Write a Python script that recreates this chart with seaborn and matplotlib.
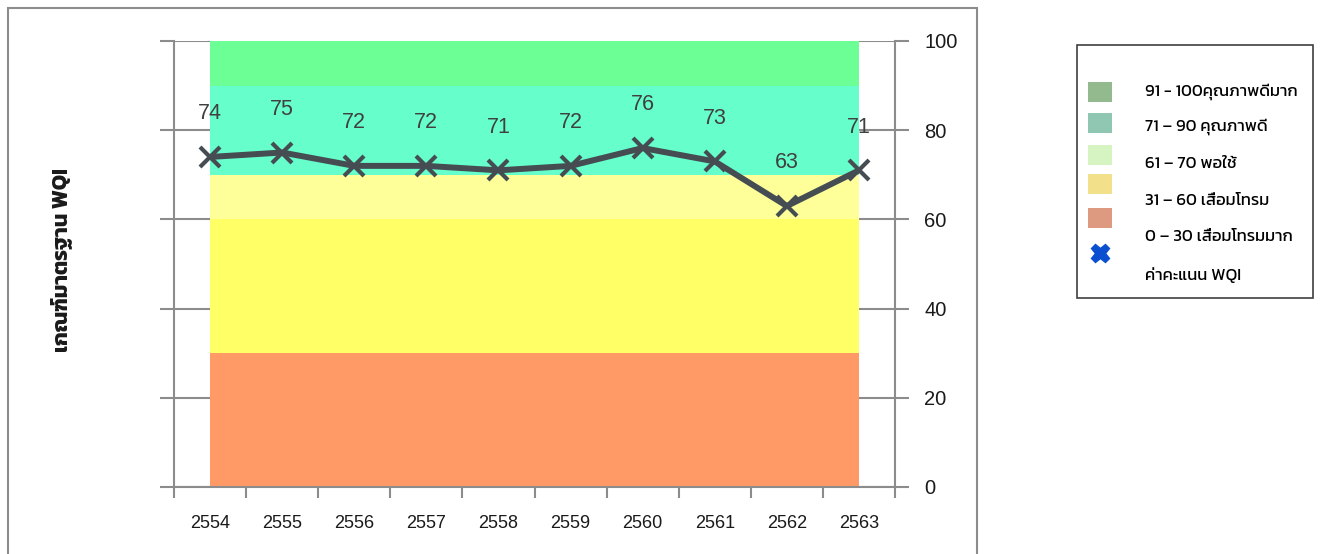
import numpy as np
import matplotlib
matplotlib.use('Agg')
import matplotlib.pyplot as plt
import seaborn as sns
from matplotlib import font_manager
from matplotlib.ft2font import FT2Font
from matplotlib.patches import Rectangle
from matplotlib.lines import Line2D

# data
years = ['2554', '2555', '2556', '2557', '2558', '2559', '2560', '2561', '2562', '2563']
wqi = [74, 75, 72, 72, 71, 72, 76, 73, 63, 71]

band_labels = ['0 – 30 เสื่อมโทรมมาก', '31 – 60 เสื่อมโทรม', '61 – 70 พอใช้',
               '71 – 90 คุณภาพดี', '91 - 100คุณภาพดีมาก']
band_low = [0, 30, 60, 70, 90]
band_high = [30, 60, 70, 90, 100]
band_colors = ['#FF9966', '#FFFF66', '#FFFF99', '#66FFCC', '#6BFF96']
legend_colors = ['#DE9A80', '#F2E08A', '#D5F4C1', '#8FC7B3', '#93B98F']
y_ticks = [0, 20, 40, 60, 80, 100]
wqi_label = 'ค่าคะแนน WQI'
y_title = 'เกณฑ์มาตรฐาน WQI'


def thai_fonts():
    # installed fonts with Thai glyphs, ones that also have a bold face first
    weights = {}
    for f in font_manager.fontManager.ttflist:
        try:
            if 0x0E01 in FT2Font(f.fname).get_charmap():
                w = f.weight if isinstance(f.weight, int) else 400
                weights.setdefault(f.name, set()).add(w)
        except Exception:
            pass
    return sorted(weights, key=lambda n: -max(weights[n]))


sns.set_style('white')
thai = thai_fonts()
plt.rcParams['font.family'] = ['Liberation Sans'] + thai + ['DejaVu Sans']
thai_family = thai + ['Liberation Sans', 'DejaVu Sans']

W, H = 1322, 554
def fx(px):
    return px / W
def fy(py):
    return 1 - py / H

fig = plt.figure(figsize=(W / 100, H / 100), dpi=100)
ax = fig.add_axes([fx(174), fy(487), fx(895) - fx(174), fy(41) - fy(487)])

grid_col = '#8C8C8C'
line_col = '#454D52'

# bands behind the line
pos = np.arange(len(years))
for lo, hi, c in zip(band_low, band_high, band_colors):
    ax.fill_between(pos, lo, hi, color=c, lw=0, zorder=1)

sns.pointplot(x=years, y=wqi, ax=ax, color=line_col, markers='x',
              linestyles='-', linewidth=4.3, markersize=14,
              markeredgewidth=3, zorder=3)

for i, v in enumerate(wqi):
    ax.annotate(str(v), (i, v), xytext=(0, 31), textcoords='offset points',
                ha='center', va='center', fontsize=15.5, color='#404040',
                zorder=4)

ax.set_xlim(-0.5, len(years) - 0.5)
ax.set_ylim(0, 100)
ax.set_xlabel('')
ax.set_ylabel('')

# x: tick marks between categories, labels at centres
ax.set_xticks(np.arange(len(years) + 1) - 0.5)
ax.set_xticklabels([])
ax.set_xticks(pos, minor=True)
ax.set_xticklabels(years, minor=True, fontsize=13)
ax.tick_params(axis='x', which='major', direction='out', length=8,
               width=1.5, color=grid_col, bottom=True)
ax.tick_params(axis='x', which='minor', length=0, pad=20, labelcolor='#1a1a1a')

# y: ticks both sides, labels right
ax.set_yticks(y_ticks)
ax.yaxis.tick_right()
ax.tick_params(axis='y', which='major', direction='out', length=10, width=1.5,
               color=grid_col, left=True, right=True, labelleft=False,
               labelright=True, pad=11, labelsize=14.5, labelcolor='#1a1a1a')
ax.grid(axis='y', color=grid_col, lw=1.5, zorder=0)
ax.set_axisbelow(True)
for s in ax.spines.values():
    s.set_color(grid_col)
    s.set_linewidth(1.5)
ax.spines['top'].set_visible(False)

fig.text(fx(62), fy(260), y_title, rotation=90, ha='center', va='center',
         fontsize=15.5, fontweight='bold', family=thai_family, color='#1a1a1a')

# chart outer border
fig.add_artist(Rectangle((fx(8), fy(600)), fx(977) - fx(8), fy(8) - fy(600),
                         fill=False, ec='#8C8C8C', lw=1.5,
                         transform=fig.transFigure))

# legend box
fig.add_artist(Rectangle((fx(1077), fy(298)), fx(1313) - fx(1077), fy(45) - fy(298),
                         fill=False, ec='#404040', lw=1.2,
                         transform=fig.transFigure))
sw_y = [92, 123, 155, 184, 218]
tx_y = [92, 127, 164, 201, 237]
for k, i in enumerate(range(len(band_labels) - 1, -1, -1)):
    fig.add_artist(Rectangle((fx(1088), fy(sw_y[k] + 10)), fx(1112) - fx(1088),
                             fy(sw_y[k] - 10) - fy(sw_y[k] + 10),
                             color=legend_colors[i], lw=0,
                             transform=fig.transFigure))
    fig.text(fx(1145), fy(tx_y[k]), band_labels[i], ha='left', va='center',
             fontsize=12, family=thai_family, color='black')
fig.add_artist(Line2D([fx(1100)], [fy(253)], marker='X', ms=13, color='#0A4FD0',
                      mec='#0A4FD0', transform=fig.transFigure))
fig.text(fx(1145), fy(275), wqi_label, ha='left', va='center', fontsize=12,
         family=thai_family, color='black')

fig.savefig('out.png', dpi=100)
